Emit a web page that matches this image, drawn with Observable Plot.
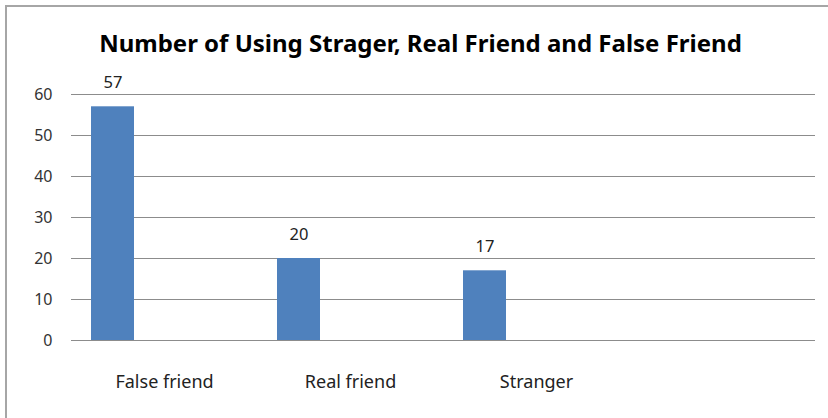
<!DOCTYPE html>
<html>
<head>
<meta charset="utf-8">
<script src="https://cdn.jsdelivr.net/npm/d3@7"></script>
<script src="https://cdn.jsdelivr.net/npm/@observablehq/plot@0.6"></script>
<style>
  html, body { margin: 0; padding: 0; background: #fff; }
  #wrap { position: relative; width: 828px; height: 418px; overflow: hidden; background: #fff; }
  #frame { position: absolute; left: 5px; top: 5px; width: 900px; height: 500px;
           border-left: 2px solid #a6a6a6; border-top: 2px solid #a6a6a6; pointer-events: none; }
  #title { position: absolute; left: 0; top: 0; width: 828px; height: 70px; box-sizing: border-box;
           padding-left: 13px; text-align: center; font-family: "Noto Sans", sans-serif;
           font-weight: bold; font-size: 24px; color: #000; line-height: 1; padding-top: 31px;
           letter-spacing: 0px; white-space: nowrap; }
  #chart { position: absolute; left: 0; top: 70px; }
</style>
</head>
<body>
<div id="wrap">
  <div id="title">Number of Using Strager, Real Friend and False Friend</div>
  <div id="chart"></div>
  <div id="frame"></div>
</div>
<script>
const categories = ["False friend", "Real friend", "Stranger", ""];
const values = [57, 20, 17, null];
const yTicks = [0, 10, 20, 30, 40, 50, 60];

const data = categories.map((c, i) => ({category: c, value: values[i]})).filter(d => d.value != null);

const chart = Plot.plot({
  width: 828,
  height: 348,
  marginTop: 24,
  marginBottom: 78,
  marginLeft: 71,
  marginRight: 13,
  style: {fontFamily: "Noto Sans, sans-serif", background: "transparent"},
  x: {domain: categories, padding: 0, label: null},
  y: {domain: [0, 60], label: null},
  marks: [
    Plot.gridY(yTicks, {stroke: "#8c8c8c", strokeOpacity: 1, strokeWidth: 1}),
    Plot.barY(data, {x: "category", y: "value", fill: "#4f81bd", insetLeft: 20, insetRight: 123}),
    Plot.text(data, {x: "category", y: "value", text: d => String(d.value), dx: -51.5, dy: -19,
                     lineAnchor: "bottom", fontSize: 16.5, fill: "#222"}),
    Plot.axisY(yTicks, {tickSize: 0, tickPadding: 19, fontSize: 16, fill: "#333", label: null}),
    Plot.axisX(categories.filter(c => c), {tickSize: 0, tickPadding: 0, dy: 47, fontSize: 18,
                     fill: "#222", label: null, lineAnchor: "bottom", letterSpacing: 0.4})
  ]
});
document.getElementById("chart").appendChild(chart);
</script>
</body>
</html>
